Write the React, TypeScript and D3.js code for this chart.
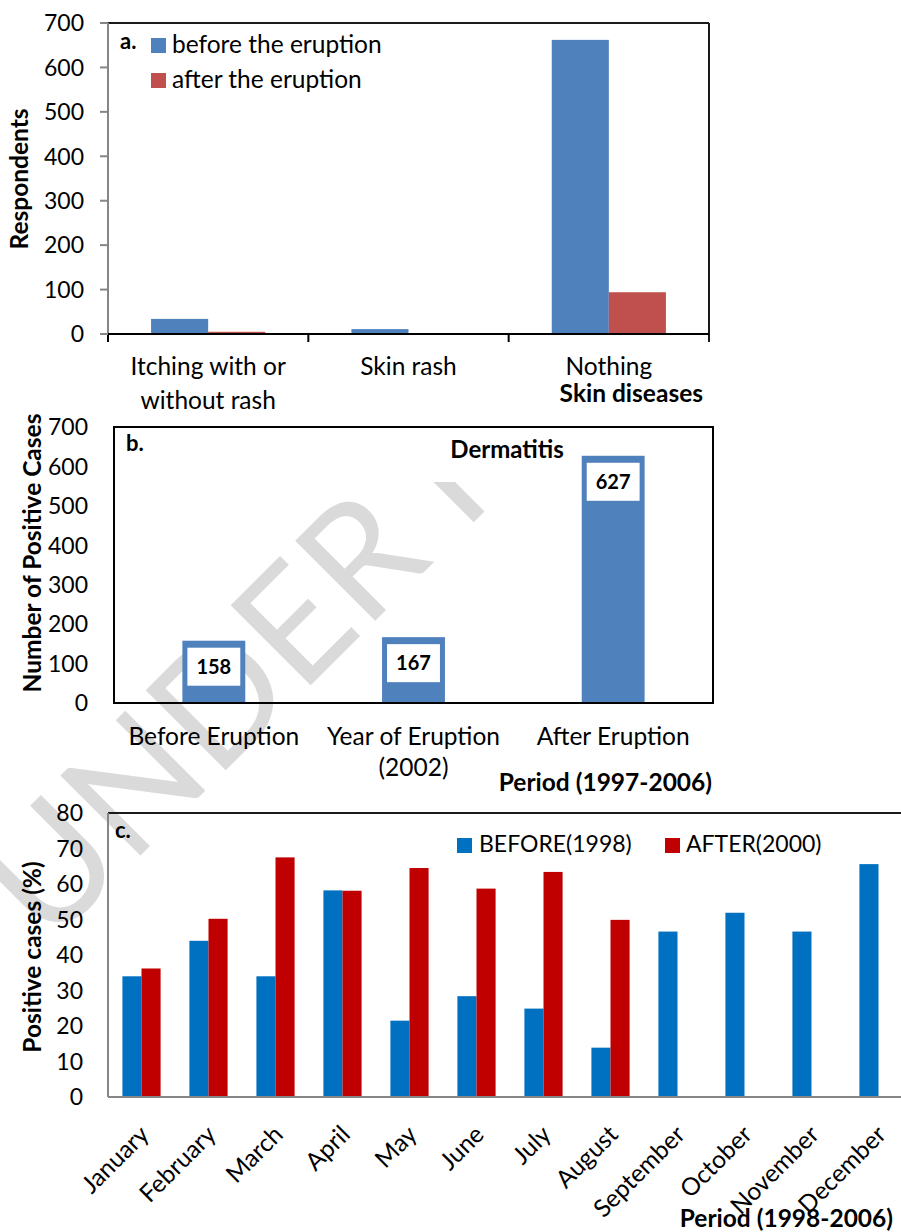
import React from "react";
import * as d3 from "d3";

// ---- Panel a: self-reported skin complaints ----
const skinCategories = ["Itching with or without rash", "Skin rash", "Nothing"];
const skinLabelLines = [["Itching with or", "without rash"], ["Skin rash"], ["Nothing"]];
const skinSeries = ["before the eruption", "after the eruption"];
const skinBefore = [34, 11, 662];
const skinAfter = [5, 0, 94];
const skinTicks = [0, 100, 200, 300, 400, 500, 600, 700];

// ---- Panel b: dermatitis cases by period ----
const dermPeriods = ["Before Eruption", "Year of Eruption (2002)", "After Eruption"];
const dermLabelLines = [["Before Eruption"], ["Year of Eruption", "(2002)"], ["After Eruption"]];
const dermCases = [158, 167, 627];
const dermTicks = [0, 100, 200, 300, 400, 500, 600, 700];

// ---- Panel c: monthly positive cases ----
const months = [
  "January", "February", "March", "April", "May", "June",
  "July", "August", "September", "October", "November", "December",
];
const monthSeries = ["BEFORE(1998)", "AFTER(2000)"];
const monthlyBefore = [34, 44, 34, 58.2, 21.5, 28.4, 24.9, 13.9, 46.6, 51.9, 46.6, 65.6];
const monthlyAfter: (number | null)[] = [36.2, 50.2, 67.5, 58.1, 64.5, 58.7, 63.4, 49.9, null, null, null, null];
const pctTicks = [0, 10, 20, 30, 40, 50, 60, 70, 80];

const FONT = "Lato, 'Open Sans', sans-serif";
const BLUE_A = "#4F81BD";
const RED_A = "#C0504D";
const BLUE_C = "#0070C0";
const RED_C = "#C00000";
const GRAY_AXIS = "#868686";
const LABEL = 24.5;
const TICK = 23;
const BOLD = 24.5;

function SkinPanel() {
  const left = 108, right = 709, top = 23, bottom = 334;
  const y = d3.scaleLinear().domain([0, 700]).range([bottom, top]);
  const x = d3.scaleBand<string>().domain(skinCategories).range([left, right]).padding(0);
  const bw = x.bandwidth();
  const groupW = bw * 0.57;
  const sub = d3.scaleBand<string>().domain(skinSeries).range([0, groupW]);
  const values = [skinBefore, skinAfter];
  const colors = [BLUE_A, RED_A];
  const boundaries = [left, ...skinCategories.map((c) => (x(c) as number) + bw)];
  return (
    <g>
      {skinSeries.map((s, si) =>
        skinCategories.map((c, ci) => {
          const v = values[si][ci];
          if (!v) return null;
          const bx = (x(c) as number) + (bw - groupW) / 2 + (sub(s) as number);
          return (
            <rect key={s + c} x={bx} y={y(v)} width={sub.bandwidth()} height={bottom - y(v)} fill={colors[si]} />
          );
        })
      )}
      {/* frame */}
      <line x1={left} x2={right} y1={top} y2={top} stroke="#1a1a1a" strokeWidth={2} />
      <line x1={right} x2={right} y1={top} y2={bottom + 8} stroke="#1a1a1a" strokeWidth={2} />
      <line x1={left} x2={left} y1={top} y2={bottom + 8} stroke={GRAY_AXIS} strokeWidth={2} />
      <line x1={left} x2={right} y1={bottom} y2={bottom} stroke="#000" strokeWidth={2} />
      {boundaries.slice(0, -1).map((bx, i) => (
        <line key={i} x1={bx} x2={bx} y1={bottom} y2={bottom + 8} stroke="#000" strokeWidth={2} />
      ))}
      {skinTicks.map((t) => (
        <g key={t}>
          <line x1={left - 8} x2={left} y1={y(t)} y2={y(t)} stroke={GRAY_AXIS} strokeWidth={2} />
          <text x={84} y={y(t)} dy="0.36em" textAnchor="end" fontSize={TICK} fill="#000">{t}</text>
        </g>
      ))}
      {skinCategories.map((c, ci) =>
        skinLabelLines[ci].map((ln, li) => (
          <text key={c + li} x={(x(c) as number) + bw / 2} y={375 + li * 34} textAnchor="middle" fontSize={LABEL}>{ln}</text>
        ))
      )}
      <text x={703} y={402} textAnchor="end" fontSize={BOLD} fontWeight="bold">Skin diseases</text>
      <text transform="translate(28,179) rotate(-90)" textAnchor="middle" fontSize={BOLD} fontWeight="bold">Respondents</text>
      {/* legend */}
      <text x={120} y={49} fontSize={22} fontWeight="bold">a.</text>
      {skinSeries.map((s, si) => (
        <g key={s}>
          <rect x={151} y={38 + si * 35} width={15} height={15} fill={colors[si]} />
          <text x={172} y={53 + si * 35} fontSize={LABEL}>{s}</text>
        </g>
      ))}
    </g>
  );
}

function DermPanel() {
  const left = 114, right = 713, top = 427, bottom = 703;
  const y = d3.scaleLinear().domain([0, 700]).range([bottom, top]);
  const x = d3.scaleBand<string>().domain(dermPeriods).range([left, right]).padding(0);
  const bw = x.bandwidth();
  const barW = bw * 0.315;
  return (
    <g>
      {dermPeriods.map((p, i) => {
        const v = dermCases[i];
        const bx = (x(p) as number) + (bw - barW) / 2;
        const by = y(v);
        return (
          <g key={p}>
            <rect x={bx} y={by} width={barW} height={bottom - by} fill={BLUE_A} />
            <rect x={bx + 5} y={by + 7} width={barW - 10} height={38} fill="#fff" />
            <text x={bx + barW / 2} y={by + 26} dy="0.36em" textAnchor="middle" fontSize={20} fontWeight="bold">{v}</text>
          </g>
        );
      })}
      <rect x={left} y={top} width={right - left} height={bottom - top} fill="none" stroke="#000" strokeWidth={2} />
      {dermTicks.map((t) => (
        <text key={t} x={88} y={y(t)} dy="0.36em" textAnchor="end" fontSize={TICK}>{t}</text>
      ))}
      {dermPeriods.map((p, i) =>
        dermLabelLines[i].map((ln, li) => (
          <text key={p + li} x={(x(p) as number) + bw / 2} y={745 + li * 31} textAnchor="middle" fontSize={LABEL}>{ln}</text>
        ))
      )}
      <text x={126} y={451} fontSize={22} fontWeight="bold">b.</text>
      <text x={507} y={458} textAnchor="middle" fontSize={24} fontWeight="bold">Dermatitis</text>
      <text x={712} y={791} textAnchor="end" fontSize={BOLD} fontWeight="bold">Period (1997-2006)</text>
      <text transform="translate(41,553) rotate(-90)" textAnchor="middle" fontSize={BOLD} fontWeight="bold">Number of Positive Cases</text>
    </g>
  );
}

function MonthPanel() {
  const left = 108, right = 912, top = 813, bottom = 1097;
  const y = d3.scaleLinear().domain([0, 80]).range([bottom, top]);
  const x = d3.scaleBand<string>().domain(months).range([left, right]).padding(0);
  const bw = x.bandwidth();
  const groupW = bw * 0.57;
  const sub = d3.scaleBand<string>().domain(monthSeries).range([0, groupW]);
  const values = [monthlyBefore, monthlyAfter];
  const colors = [BLUE_C, RED_C];
  return (
    <g>
      {monthSeries.map((s, si) =>
        months.map((m, mi) => {
          const v = values[si][mi];
          if (v == null) return null;
          const bx = (x(m) as number) + (bw - groupW) / 2 + (sub(s) as number);
          return <rect key={s + m} x={bx} y={y(v)} width={sub.bandwidth()} height={bottom - y(v)} fill={colors[si]} />;
        })
      )}
      <line x1={left} x2={901} y1={top} y2={top} stroke="#1a1a1a" strokeWidth={2} />
      <line x1={left} x2={left} y1={top} y2={bottom} stroke={GRAY_AXIS} strokeWidth={2} />
      <line x1={left} x2={901} y1={bottom} y2={bottom} stroke={GRAY_AXIS} strokeWidth={2} />
      {pctTicks.map((t) => (
        <text key={t} x={83} y={y(t)} dy="0.36em" textAnchor="end" fontSize={TICK}>{t}</text>
      ))}
      {months.map((m) => (
        <text
          key={m}
          transform={`translate(${(x(m) as number) + bw / 2 + 9},${bottom + 39}) rotate(-45)`}
          textAnchor="end"
          fontSize={LABEL}
        >
          {m}
        </text>
      ))}
      <text x={115} y={838} fontSize={22} fontWeight="bold">c.</text>
      {monthSeries.map((s, si) => (
        <g key={s}>
          <rect x={457 + si * 208} y={838} width={15} height={15} fill={colors[si]} />
          <text x={479 + si * 207} y={852} fontSize={23}>{s}</text>
        </g>
      ))}
      <text x={893} y={1227} textAnchor="end" fontSize={BOLD} fontWeight="bold">Period (1998-2006)</text>
      <text transform="translate(41,957) rotate(-90)" textAnchor="middle" fontSize={BOLD} fontWeight="bold">Positive cases (%)</text>
    </g>
  );
}

export default function App() {
  return (
    <svg
      width={901}
      height={1232}
      viewBox="0 0 901 1232"
      style={{ position: "absolute", left: 0, top: 0, background: "#fff" }}
      fontFamily={FONT}
    >
      <defs>
        <clipPath id="wm-clip">
          <rect x={0} y={482} width={901} height={750} />
          <rect x={890} y={0} width={11} height={482} />
        </clipPath>
      </defs>
      <rect x={0} y={0} width={901} height={1232} fill="#fff" />
      <g clipPath="url(#wm-clip)">
        <text
          transform="translate(48,948) rotate(-45)"
          fontSize={158}
          fill="#dadada"
          fontFamily={FONT}
        >
          UNDER REVIEW
        </text>
      </g>
      <SkinPanel />
      <DermPanel />
      <MonthPanel />
    </svg>
  );
}
